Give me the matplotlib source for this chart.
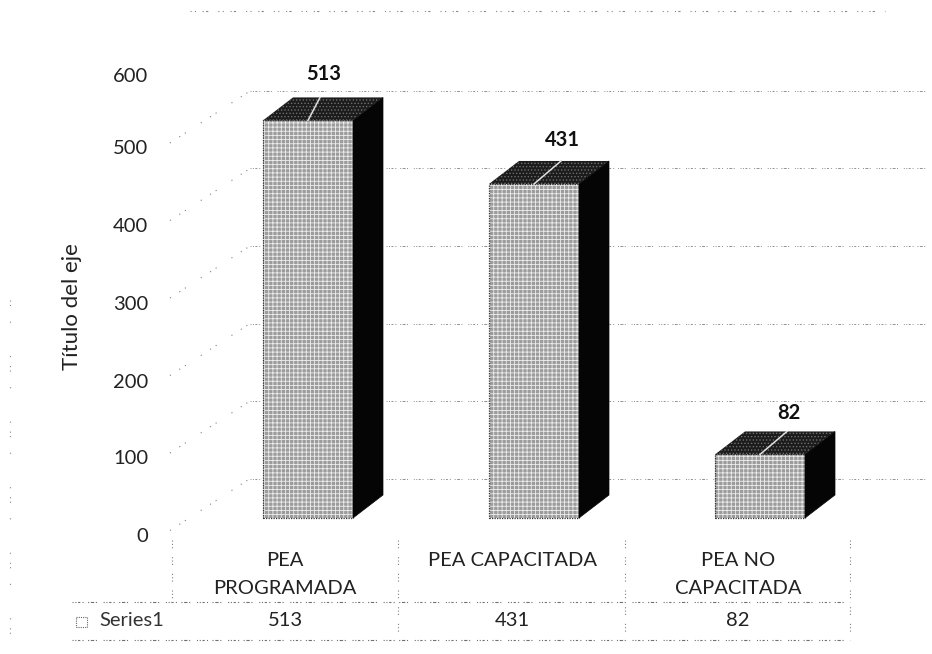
import matplotlib
matplotlib.use("Agg")
import matplotlib.pyplot as plt
from matplotlib.patches import Polygon

categories = ["PEA\nPROGRAMADA", "PEA CAPACITADA", "PEA NO\nCAPACITADA"]
values = [513, 431, 82]
y_ticks = [0, 100, 200, 300, 400, 500, 600]
series_name = "Series1"
axis_title = "Título del eje"

W, H = 932, 654
PX_PER_UNIT = 0.775
CAT_PX = 226
X0_PX, Y0_PX = 308, 518
BAR_W = 90 / CAT_PX
DX = 30 / CAT_PX
DY = 23 / PX_PER_UNIT
GRID_DROP = 38 / PX_PER_UNIT
tick_py = [537, 459, 382, 304, 227, 149, 76]
leader_dx = [12, 27, 27]
label_dx = [16, 28, 29]
label_rise = [46, 44, 41]
label_px = [285, 512, 738]
div_px = [172, 398, 625, 850]
TXT = "#222222"

plt.rcParams["font.family"] = ["Lato", "DejaVu Sans"]
plt.rcParams["hatch.linewidth"] = 0.6
fig = plt.figure(figsize=(W / 100, H / 100), dpi=100)
ax = fig.add_axes([0, 0, 1, 1])
ax.set_xlim(-X0_PX / CAT_PX, (W - X0_PX) / CAT_PX)
ax.set_ylim((Y0_PX - H) / PX_PER_UNIT, Y0_PX / PX_PER_UNIT)
ax.axis("off")


def xp(px):
    return (px - X0_PX) / CAT_PX


def yp(py):
    return (Y0_PX - py) / PX_PER_UNIT


broken = (0, (1, 1.5, 1, 1.5, 2, 2, 1, 4, 1, 1.5, 3, 1.5, 1, 6))
sparse = (0, (1, 9, 1, 5, 1, 16))
very_sparse = (0, (1, 3, 1, 14, 1, 30, 1, 8))
for v in y_ticks[1:]:
    g = v - GRID_DROP
    ax.plot([xp(250), xp(925)], [g, g], color="#909090", lw=0.7, ls=broken, zorder=1)
    ax.plot([xp(170), xp(250)], [g - 52 / PX_PER_UNIT, g], color="#808080", lw=0.8,
            ls=sparse, zorder=1)
for v, py in zip(y_ticks, tick_py):
    ax.text(xp(148), yp(py), str(v), ha="right", va="center", fontsize=14.5, color=TXT)

ax.text(xp(72), yp(307), axis_title, rotation=90, ha="center", va="center",
        fontsize=16, color=TXT)

# scanner specks along the top and left of the page
ax.plot([xp(190), xp(885)], [yp(11), yp(11)], color="#888888", lw=0.8, ls=(0, (1, 3, 1, 6, 1, 2, 2, 9)))
ax.plot([xp(10), xp(10)], [yp(300), yp(640)], color="#888888", lw=0.8, ls=very_sparse)

for i, (c, v) in enumerate(zip(categories, values)):
    l, r = i - BAR_W / 2, i + BAR_W / 2
    ax.add_patch(Polygon([(l, 0), (r, 0), (r, v), (l, v)], facecolor="#9c9c9c",
                         edgecolor="#ededed", hatch="++++", lw=0, zorder=3))
    ax.add_patch(Polygon([(l, 0), (r, 0), (r, v), (l, v)], fill=False,
                         edgecolor="#333333", lw=0.9, ls=(0, (1, 1)), zorder=3))
    ax.add_patch(Polygon([(l, v), (r, v), (r + DX, v + DY), (l + DX, v + DY)],
                         facecolor="#1c1c1c", edgecolor="#6e6e6e", hatch=".....", lw=0, zorder=3))
    ax.add_patch(Polygon([(r, 0), (r + DX, DY), (r + DX, v + DY), (r, v)],
                         facecolor="#050505", edgecolor="#050505", lw=0.5, zorder=3))
    ax.plot([i, i + leader_dx[i] / CAT_PX], [v, v + DY], color="#e0e0e0", lw=1.1, zorder=4)
    ax.text(i + label_dx[i] / CAT_PX, v + label_rise[i] / PX_PER_UNIT, str(v), ha="center",
            va="center", fontsize=14.5, fontweight="bold", color="#111111", zorder=5)

# data table
for i, (c, v) in enumerate(zip(categories, values)):
    lines = c.split("\n")
    ax.text(xp(label_px[i]), yp(560), lines[0], ha="center", va="center", fontsize=14.5, color=TXT)
    if len(lines) == 2:
        ax.text(xp(label_px[i]), yp(588), lines[1], ha="center", va="center", fontsize=14.5, color=TXT)
    ax.text(xp(label_px[i]), yp(620), str(v), ha="center", va="center", fontsize=14.5, color=TXT)
ax.text(xp(164), yp(620), series_name, ha="right", va="center", fontsize=14.5, color="#333333")
ax.add_patch(Polygon([(xp(76), yp(617)), (xp(87), yp(617)), (xp(87), yp(627)), (xp(76), yp(627))],
                     facecolor="white", edgecolor="#666666", lw=0.8, ls=(0, (1, 1))))
for py in (602, 640):
    ax.plot([xp(72), xp(850)], [yp(py), yp(py)], color="#707070", lw=0.8, ls=broken)
for px in div_px:
    end = 600 if px == div_px[0] else 640
    ax.plot([xp(px), xp(px)], [yp(540), yp(end)], color="#808080", lw=0.8, ls=(0, (1, 2, 1, 2, 1, 8)))

fig.savefig("out.png", dpi=100, facecolor="white")
